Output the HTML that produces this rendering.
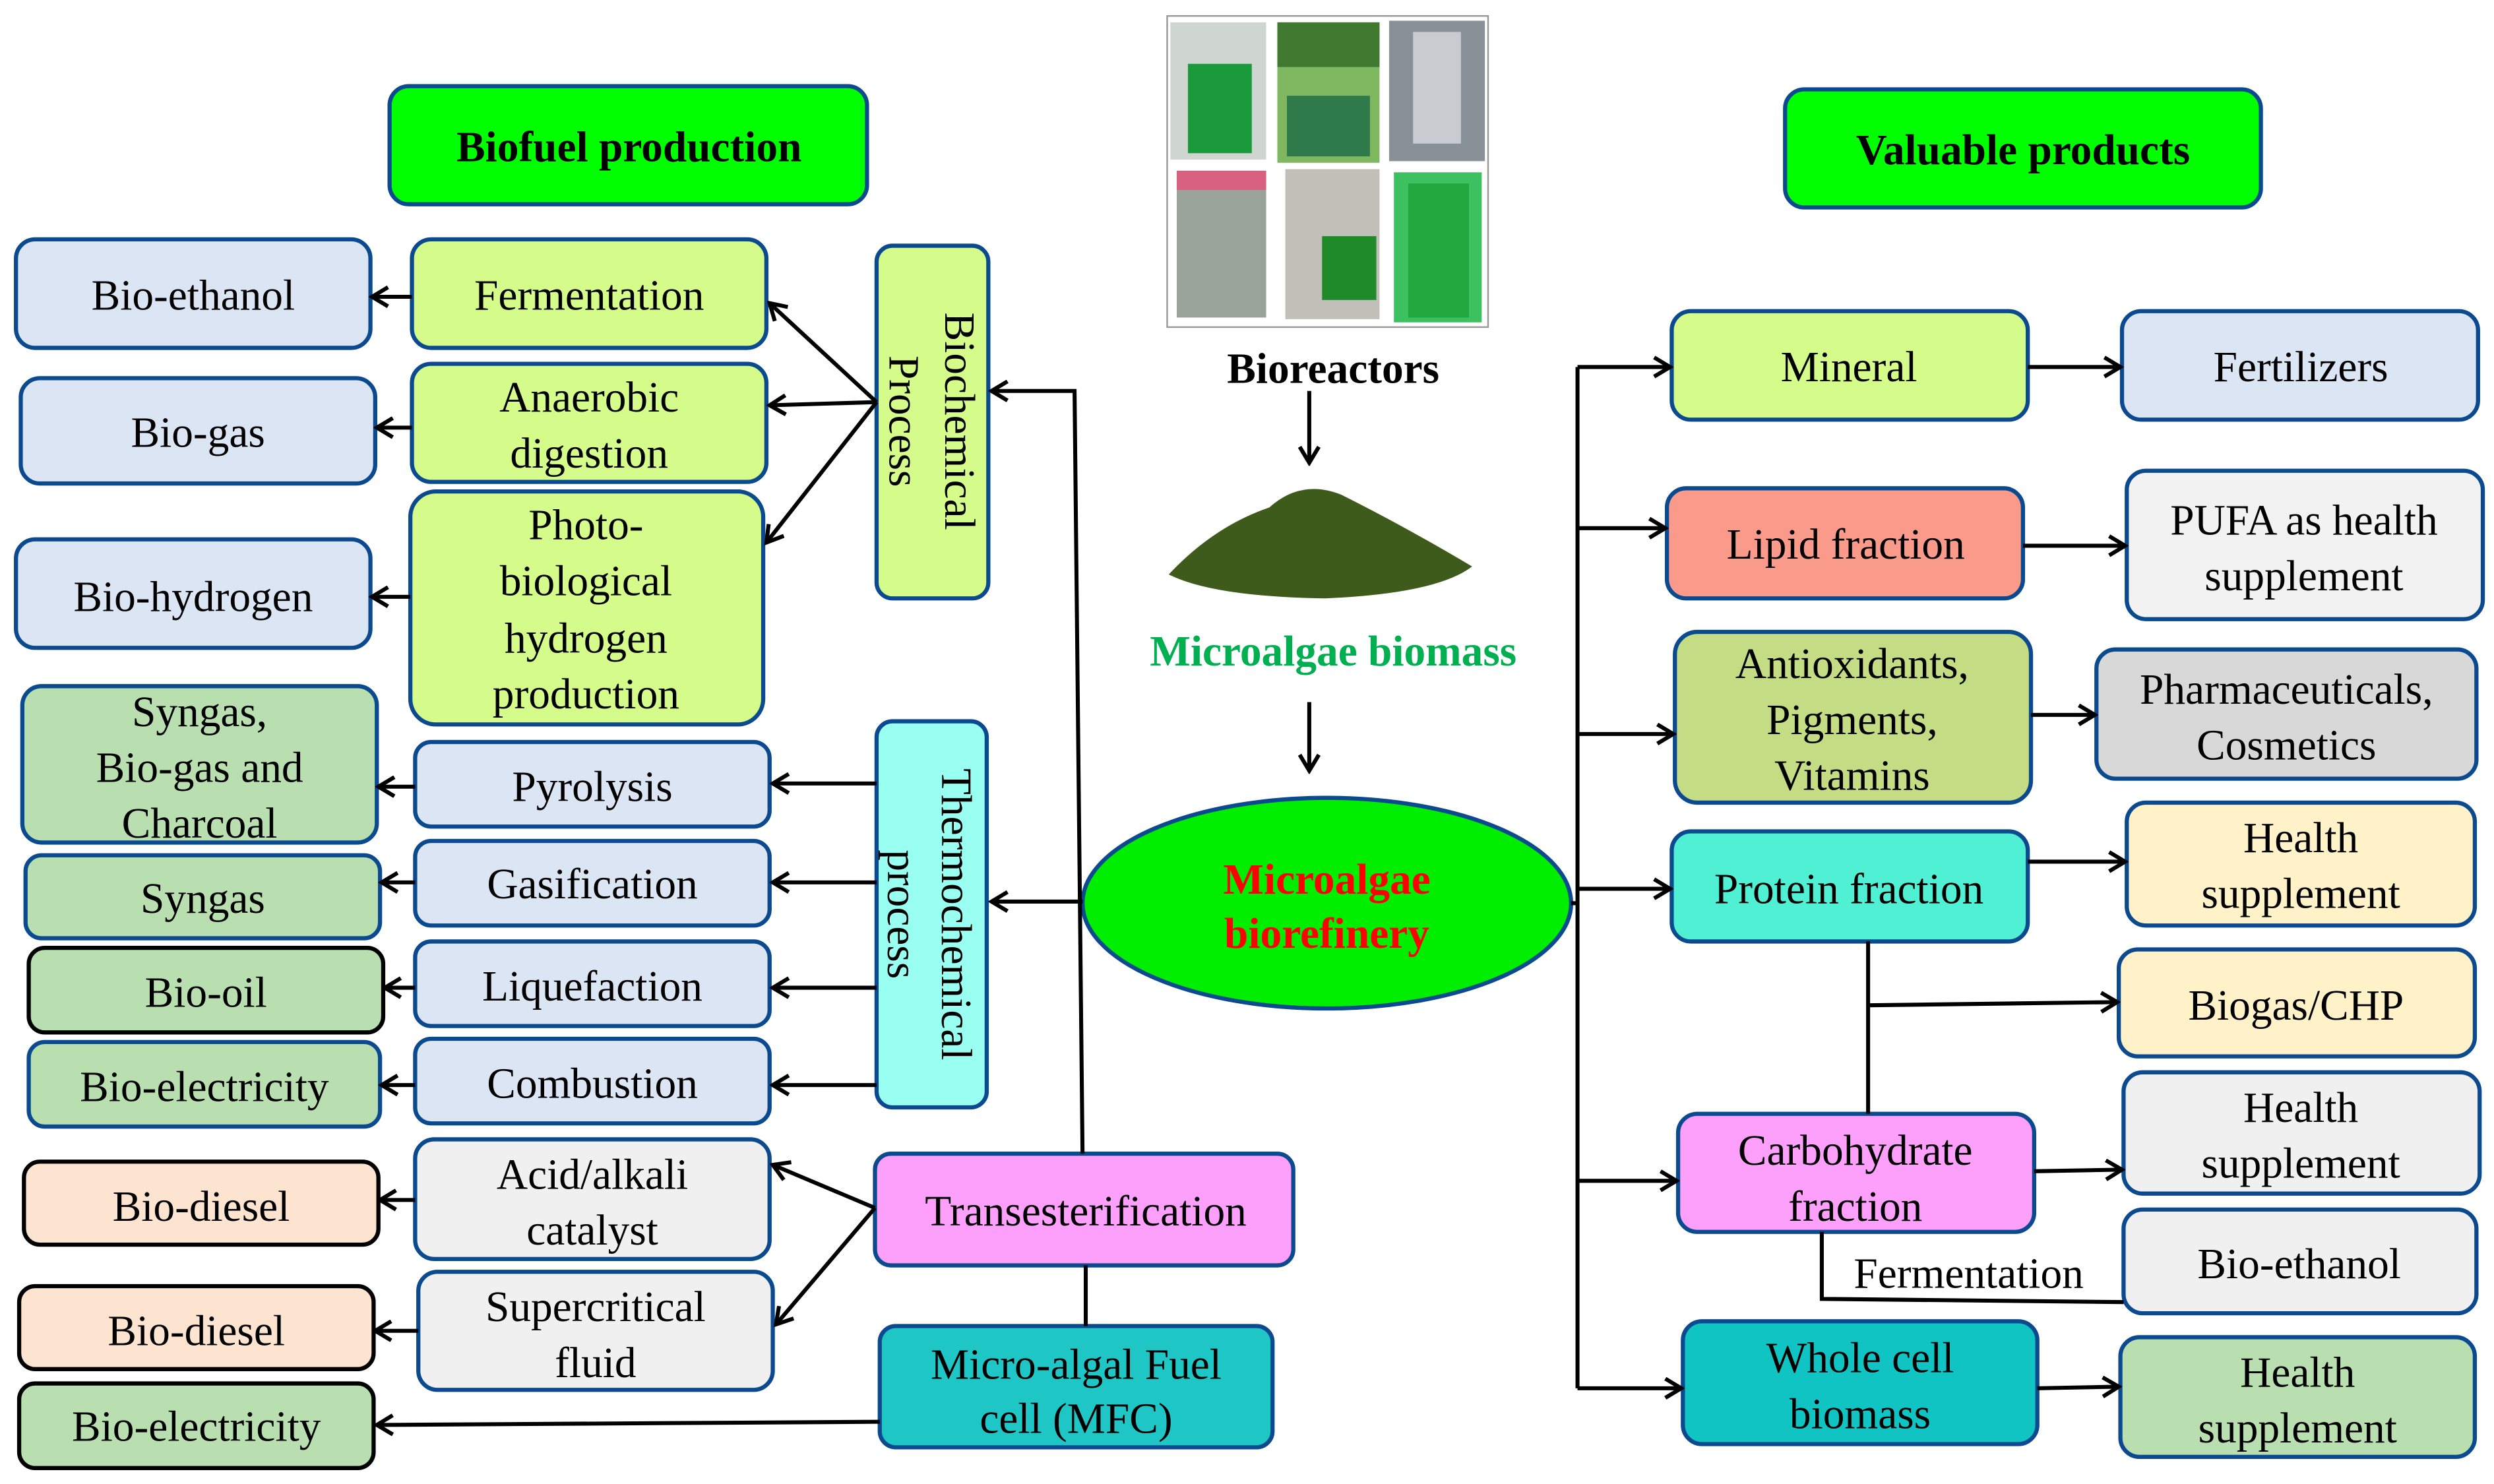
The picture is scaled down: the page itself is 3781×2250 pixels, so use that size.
<!DOCTYPE html>
<html><head><meta charset="utf-8"><style>
html,body{margin:0;padding:0;background:#fff;}
svg{display:block;}
text{font-family:"Liberation Serif",serif;font-size:27px;fill:#000;text-anchor:middle;}
.b{font-weight:bold;}
</style></head><body>
<svg width="3781" height="2250" viewBox="0 0 1562 930" preserveAspectRatio="none" xmlns="http://www.w3.org/2000/svg">
<defs>
<marker id="a" markerWidth="14" markerHeight="14" refX="12" refY="7" orient="auto" markerUnits="userSpaceOnUse">
<polyline points="2,1 12,7 2,13" fill="none" stroke="#000" stroke-width="2.5"/>
</marker>
</defs>
<g stroke="#0b4a8f" stroke-width="2.6">
<!-- left -->
<rect x="244" y="54" width="299" height="74" rx="12" fill="#00ff00"/>
<rect x="10" y="150" width="222" height="68" rx="12" fill="#dbe5f3"/>
<rect x="258" y="150" width="222" height="68" rx="12" fill="#d5fb8b"/>
<rect x="13" y="237" width="222" height="66" rx="12" fill="#dbe5f3"/>
<rect x="258" y="228" width="222" height="74" rx="12" fill="#d5fb8b"/>
<rect x="10" y="338" width="222" height="68" rx="12" fill="#dbe5f3"/>
<rect x="257" y="308" width="221" height="146" rx="16" fill="#d5fb8b"/>
<rect x="549" y="154" width="70" height="221" rx="10" fill="#d5fb8b"/>
<rect x="14" y="430" width="222" height="98" rx="12" fill="#b9dfb0"/>
<rect x="260" y="465" width="222" height="53" rx="10" fill="#dbe5f3"/>
<rect x="16" y="536" width="222" height="52" rx="10" fill="#b9dfb0"/>
<rect x="260" y="527" width="222" height="53" rx="10" fill="#dbe5f3"/>
<rect x="18" y="594" width="222" height="53" rx="10" fill="#b9dfb0" stroke="#000"/>
<rect x="260" y="590" width="222" height="53" rx="10" fill="#dbe5f3"/>
<rect x="18" y="653" width="220" height="53" rx="10" fill="#b9dfb0"/>
<rect x="260" y="651" width="222" height="53" rx="10" fill="#dbe5f3"/>
<rect x="549" y="452" width="69" height="242" rx="10" fill="#99fff0"/>
<rect x="15" y="728" width="222" height="52" rx="10" fill="#fde4d0" stroke="#000"/>
<rect x="260" y="714" width="222" height="75" rx="12" fill="#f0f0f0"/>
<rect x="12" y="806" width="222" height="52" rx="10" fill="#fde4d0" stroke="#000"/>
<rect x="262" y="797" width="222" height="74" rx="12" fill="#f0f0f0"/>
<rect x="12" y="867" width="222" height="53" rx="10" fill="#b9dfb0" stroke="#000"/>
<rect x="548" y="723" width="262" height="70" rx="10" fill="#fca0fb"/>
<rect x="551" y="831" width="246" height="76" rx="10" fill="#1ec6c6"/>
<!-- center -->
<ellipse cx="831" cy="566" rx="153" ry="66" fill="#00ee00"/>
<!-- right -->
<rect x="1118" y="56" width="298" height="74" rx="12" fill="#00ff00"/>
<rect x="1047" y="195" width="223" height="68" rx="12" fill="#d5fb8b"/>
<rect x="1329" y="195" width="223" height="68" rx="12" fill="#dbe5f3"/>
<rect x="1044" y="306" width="223" height="69" rx="12" fill="#fa9a8a"/>
<rect x="1332" y="295" width="223" height="93" rx="12" fill="#f2f2f2"/>
<rect x="1049" y="396" width="223" height="107" rx="14" fill="#c4dc84"/>
<rect x="1313" y="407" width="238" height="81" rx="12" fill="#d8d8d8"/>
<rect x="1047" y="521" width="223" height="69" rx="12" fill="#50f0d4"/>
<rect x="1332" y="503" width="218" height="77" rx="12" fill="#fff2c8"/>
<rect x="1327" y="595" width="223" height="67" rx="12" fill="#fff2c8"/>
<rect x="1051" y="698" width="223" height="74" rx="12" fill="#fca0fb"/>
<rect x="1330" y="672" width="223" height="76" rx="12" fill="#f0f0f0"/>
<rect x="1330" y="758" width="221" height="65" rx="12" fill="#f0f0f0"/>
<rect x="1054" y="828" width="222" height="77" rx="12" fill="#10c4c4"/>
<rect x="1328" y="838" width="222" height="75" rx="12" fill="#b9dfb0"/>
</g>
<!-- bioreactor images -->
<g>
<rect x="731" y="10" width="201" height="195" fill="#fff" stroke="#999" stroke-width="1"/>
<rect x="733" y="14" width="60" height="86" fill="#cfd6d0"/><rect x="744" y="40" width="40" height="56" fill="#1a9a3a"/>
<rect x="800" y="14" width="64" height="88" fill="#7fb860"/><rect x="806" y="60" width="52" height="38" fill="#2f7a4a"/><rect x="800" y="14" width="64" height="28" fill="#3f7a30"/>
<rect x="870" y="13" width="60" height="88" fill="#8a9098"/><rect x="885" y="20" width="30" height="70" fill="#c8ccd0"/>
<rect x="737" y="107" width="56" height="92" fill="#9aa39a"/><rect x="737" y="107" width="56" height="12" fill="#d86080"/>
<rect x="805" y="106" width="59" height="94" fill="#c0c0b8"/><rect x="828" y="148" width="34" height="40" fill="#1e8a2a"/>
<rect x="873" y="108" width="55" height="94" fill="#3cc060"/><rect x="882" y="115" width="38" height="84" fill="#22a63e"/>
</g>
<path d="M732,360 Q760,330 795,318 Q815,300 840,310 Q880,330 922,355 Q900,372 830,375 Q760,374 732,360 Z" fill="#3f5b1c"/>
<!-- connectors -->
<g stroke="#000" stroke-width="2.5" fill="none">
<line x1="820" y1="245" x2="820" y2="290" marker-end="url(#a)"/>
<line x1="820" y1="440" x2="820" y2="483" marker-end="url(#a)"/>
<line x1="678" y1="565" x2="621" y2="565" marker-end="url(#a)"/>
<polyline points="678,723 673,245 621,245" marker-end="url(#a)"/>
<line x1="680" y1="793" x2="680" y2="831"/>
<line x1="551" y1="891" x2="236" y2="893" marker-end="url(#a)"/>
<line x1="549" y1="252" x2="482" y2="190" marker-end="url(#a)"/>
<line x1="549" y1="252" x2="482" y2="254" marker-end="url(#a)"/>
<line x1="549" y1="252" x2="480" y2="340" marker-end="url(#a)"/>
<line x1="258" y1="186" x2="233" y2="186" marker-end="url(#a)"/>
<line x1="258" y1="268" x2="236" y2="268" marker-end="url(#a)"/>
<line x1="257" y1="374" x2="233" y2="374" marker-end="url(#a)"/>
<line x1="549" y1="491" x2="484" y2="491" marker-end="url(#a)"/>
<line x1="549" y1="553" x2="484" y2="553" marker-end="url(#a)"/>
<line x1="549" y1="619" x2="484" y2="619" marker-end="url(#a)"/>
<line x1="549" y1="680" x2="484" y2="680" marker-end="url(#a)"/>
<line x1="260" y1="493" x2="237" y2="493" marker-end="url(#a)"/>
<line x1="260" y1="553" x2="239" y2="553" marker-end="url(#a)"/>
<line x1="260" y1="619" x2="241" y2="619" marker-end="url(#a)"/>
<line x1="260" y1="680" x2="239" y2="680" marker-end="url(#a)"/>
<line x1="548" y1="757" x2="484" y2="730" marker-end="url(#a)"/>
<line x1="548" y1="757" x2="486" y2="830" marker-end="url(#a)"/>
<line x1="260" y1="752" x2="238" y2="752" marker-end="url(#a)"/>
<line x1="262" y1="834" x2="235" y2="834" marker-end="url(#a)"/>
<!-- right -->
<line x1="984" y1="566" x2="988" y2="566"/>
<line x1="988" y1="230" x2="988" y2="870"/>
<line x1="988" y1="230" x2="1046" y2="230" marker-end="url(#a)"/>
<line x1="988" y1="331" x2="1043" y2="331" marker-end="url(#a)"/>
<line x1="988" y1="460" x2="1048" y2="460" marker-end="url(#a)"/>
<line x1="988" y1="557" x2="1046" y2="557" marker-end="url(#a)"/>
<line x1="988" y1="740" x2="1050" y2="740" marker-end="url(#a)"/>
<line x1="988" y1="870" x2="1053" y2="870" marker-end="url(#a)"/>
<line x1="1270" y1="230" x2="1328" y2="230" marker-end="url(#a)"/>
<line x1="1267" y1="342" x2="1331" y2="342" marker-end="url(#a)"/>
<line x1="1272" y1="448" x2="1312" y2="448" marker-end="url(#a)"/>
<line x1="1270" y1="540" x2="1331" y2="540" marker-end="url(#a)"/>
<line x1="1170" y1="590" x2="1170" y2="698"/>
<line x1="1170" y1="630" x2="1326" y2="628" marker-end="url(#a)"/>
<line x1="1274" y1="734" x2="1329" y2="733" marker-end="url(#a)"/>
<polyline points="1141,772 1141,814 1330,816"/>
<line x1="1276" y1="870" x2="1327" y2="869" marker-end="url(#a)"/>
</g>
<!-- text -->
<text x="394" y="101" class="b">Biofuel production</text>
<text x="121" y="194">Bio-ethanol</text>
<text x="369" y="194">Fermentation</text>
<text x="124" y="280">Bio-gas</text>
<text x="369" y="258">Anaerobic</text><text x="369" y="293">digestion</text>
<text x="121" y="383">Bio-hydrogen</text>
<text x="367" y="338">Photo-</text><text x="367" y="373">biological</text><text x="367" y="409">hydrogen</text><text x="367" y="444">production</text>
<text transform="translate(592,264) rotate(90)">Biochemical</text>
<text transform="translate(557,264) rotate(90)">Process</text>
<text x="125" y="455">Syngas,</text><text x="125" y="490">Bio-gas and</text><text x="125" y="525">Charcoal</text>
<text x="371" y="502">Pyrolysis</text>
<text x="127" y="572">Syngas</text>
<text x="371" y="563">Gasification</text>
<text x="129" y="631">Bio-oil</text>
<text x="371" y="627">Liquefaction</text>
<text x="128" y="690">Bio-electricity</text>
<text x="371" y="688">Combustion</text>
<text transform="translate(590,573) rotate(90)">Thermochemical</text>
<text transform="translate(556,573) rotate(90)">process</text>
<text x="126" y="765">Bio-diesel</text>
<text x="371" y="745">Acid/alkali</text><text x="371" y="780">catalyst</text>
<text x="123" y="843">Bio-diesel</text>
<text x="373" y="828">Supercritical</text><text x="373" y="863">fluid</text>
<text x="123" y="903">Bio-electricity</text>
<text x="680" y="768">Transesterification</text>
<text x="674" y="864">Micro-algal Fuel</text><text x="674" y="898">cell (MFC)</text>
<text x="835" y="240" class="b">Bioreactors</text>
<text x="835" y="417" class="b" style="fill:#00b050">Microalgae biomass</text>
<text x="831" y="560" class="b" style="fill:#ff0000">Microalgae</text>
<text x="831" y="594" class="b" style="fill:#ff0000">biorefinery</text>
<text x="1267" y="103" class="b">Valuable products</text>
<text x="1158" y="239">Mineral</text>
<text x="1441" y="239">Fertilizers</text>
<text x="1156" y="350">Lipid fraction</text>
<text x="1443" y="335">PUFA as health</text><text x="1443" y="370">supplement</text>
<text x="1160" y="425">Antioxidants,</text><text x="1160" y="460">Pigments,</text><text x="1160" y="495">Vitamins</text>
<text x="1432" y="441">Pharmaceuticals,</text><text x="1432" y="476">Cosmetics</text>
<text x="1158" y="566">Protein fraction</text>
<text x="1441" y="534">Health</text><text x="1441" y="569">supplement</text>
<text x="1438" y="639">Biogas/CHP</text>
<text x="1162" y="730">Carbohydrate</text><text x="1162" y="765">fraction</text>
<text x="1441" y="703">Health</text><text x="1441" y="738">supplement</text>
<text x="1440" y="801">Bio-ethanol</text>
<text x="1233" y="807">Fermentation</text>
<text x="1165" y="860">Whole cell</text><text x="1165" y="895">biomass</text>
<text x="1439" y="869">Health</text><text x="1439" y="904">supplement</text>
</svg>
</body></html>
